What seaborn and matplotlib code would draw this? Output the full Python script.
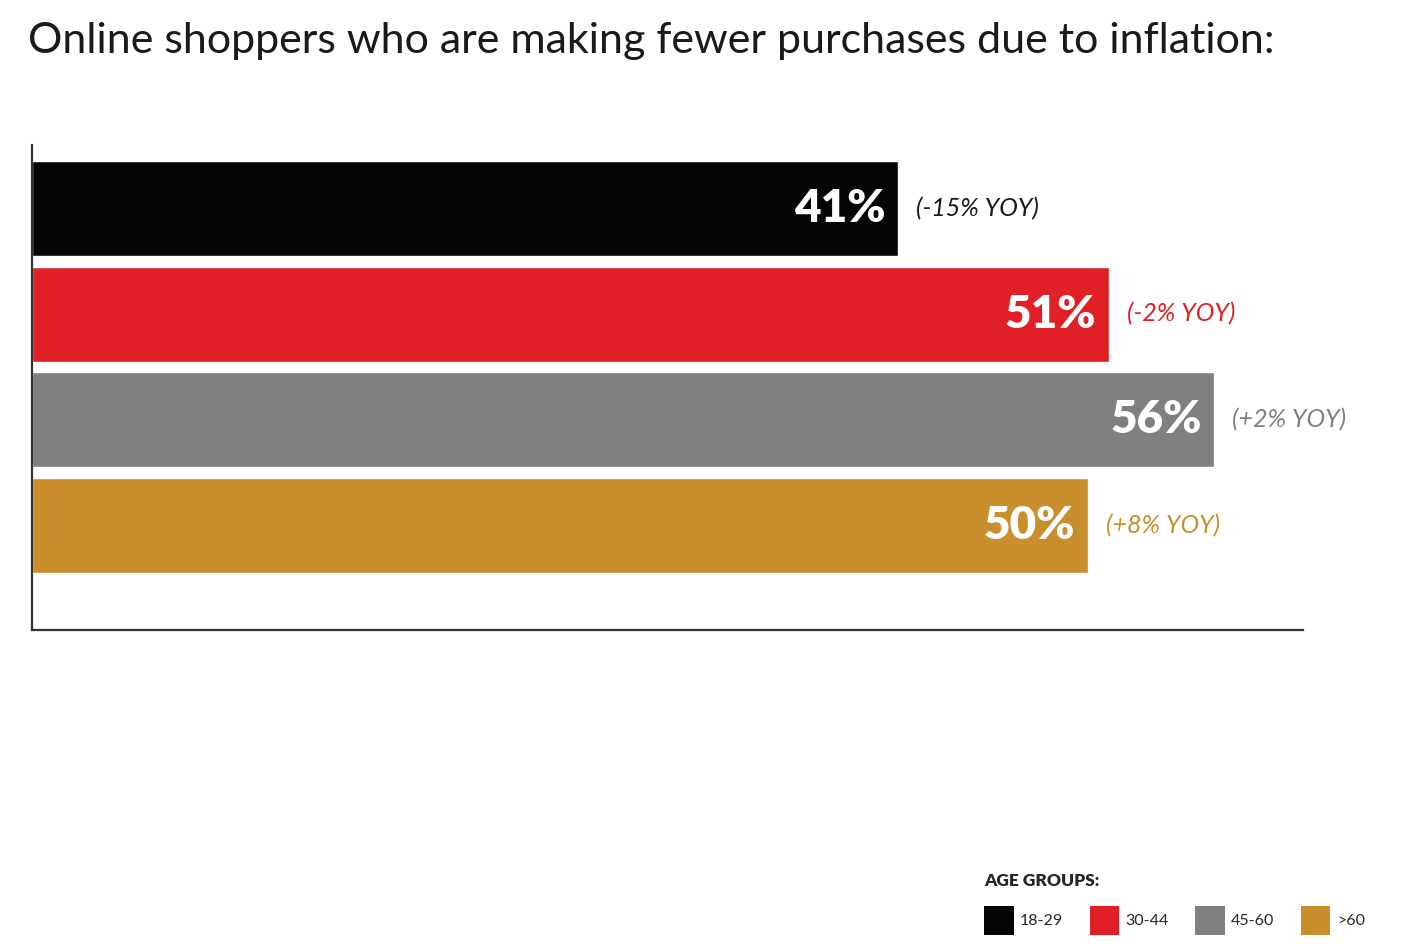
import matplotlib
matplotlib.use("Agg")
import matplotlib.pyplot as plt
from matplotlib.patches import Patch
import seaborn as sns
import pandas as pd

groups = ["18-29", "30-44", "45-60", ">60"]
values = [41, 51, 56, 50]
yoy_labels = ["(-15% YOY)", "(-2% YOY)", "(+2% YOY)", "(+8% YOY)"]
colors = ["#050505", "#E01F26", "#808080", "#C98F2C"]
yoy_colors = ["#1a1a1a", "#E01F26", "#808080", "#C98F2C"]
title = "Online shoppers who are making fewer purchases due to inflation:"
legend_title = "AGE GROUPS:"

sns.set_theme(style="white")
plt.rcParams["font.family"] = ["Lato", "DejaVu Sans"]

df = pd.DataFrame({"group": groups, "value": values})

fig = plt.figure(figsize=(14.02, 9.44), dpi=100)
ax = fig.add_axes([32/1402, 1-630/944, (1303-32)/1402, (630-145)/944])

sns.barplot(data=df, x="value", y="group", hue="group", palette=colors,
            order=groups, hue_order=groups, width=0.9, legend=False,
            saturation=1, ax=ax, orient="h")

ax.set_xlim(0, 60.2)
ax.set_ylim(3.99, -0.60)
ax.set_xlabel("")
ax.set_ylabel("")
ax.set_xticks([])
ax.set_yticks([])
for s in ["top", "right"]:
    ax.spines[s].set_visible(False)
for s in ["left", "bottom"]:
    ax.spines[s].set_color("#333333")
    ax.spines[s].set_linewidth(1.6)

for i, (v, lab, c) in enumerate(zip(values, yoy_labels, yoy_colors)):
    ax.annotate(f"{v}%", xy=(v, i), xytext=(-9, 0), textcoords="offset points",
                ha="right", va="center", color="white", fontsize=33,
                fontweight="heavy")
    ax.annotate(lab, xy=(v, i), xytext=(13, 0), textcoords="offset points",
                ha="left", va="center", color=c, fontsize=18,
                fontstyle="italic")

fig.text(28/1402, 1-41/944, title, ha="left", va="center",
         fontsize=31, color="#1a1a1a")

handles = [Patch(facecolor=c, edgecolor="none") for c in colors]
leg = fig.legend(handles, groups, ncol=4, loc="upper left",
                 bbox_to_anchor=(984/1402, 1-873/944), frameon=False,
                 title=legend_title, fontsize=11.5,
                 title_fontproperties={"weight": "heavy", "size": 12.5},
                 handlelength=1.85, handleheight=2.4, handletextpad=0.4,
                 columnspacing=1.65, borderpad=0, borderaxespad=0,
                 labelspacing=1.05)
leg._legend_box.align = "left"

fig.savefig("out.png", dpi=100, facecolor="white")
